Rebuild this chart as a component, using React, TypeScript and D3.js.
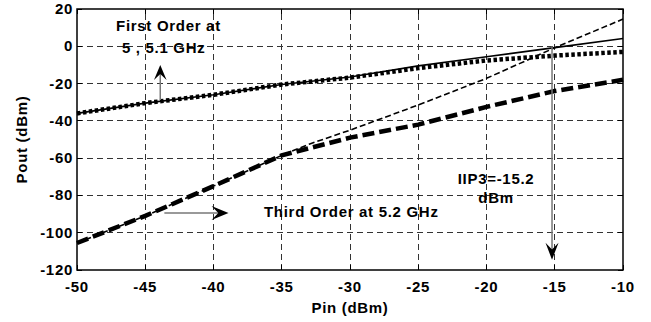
import React from 'react';
import * as d3 from 'd3';

// Pin sweep (dBm)
const pin = [-50, -45, -40, -35, -30, -25, -20, -15, -10];
// first order output, 5 GHz (solid) and 5.1 GHz (dotted)
const first5 = [-36, -30.5, -26, -20.5, -16.5, -10.5, -5.6, -0.7, 4.2];
const first51 = [-36, -30.5, -26, -20.5, -16.8, -11.7, -7.6, -5, -3];
// third order, 5.2 GHz (thick dashed)
const third = [-105.5, -91, -75, -58.5, -49, -42, -32.5, -24, -18];
// thin dashed extrapolated third order
const thirdExtPin = [-50, -45, -40, -35, -33, -30, -25, -20, -15, -10];
const thirdExt = [-105.5, -91, -75, -58.5, -52.5, -45, -31.5, -17.2, -0.8, 14.6];

const xTicks = [-50, -45, -40, -35, -30, -25, -20, -15, -10];
const yTicks = [20, 0, -20, -40, -60, -80, -100, -120];

const W = 651, H = 322;
const m = { left: 77, right: 28, top: 9, bottom: 52 };

const x = d3.scaleLinear().domain([-50, -10]).range([m.left, W - m.right]);
const y = d3.scaleLinear().domain([-120, 20]).range([H - m.bottom, m.top]);

const line = d3.line<[number, number]>().x(d => x(d[0])).y(d => y(d[1]));
const zip = (xs: number[], ys: number[]) => xs.map((v, i) => [v, ys[i]] as [number, number]);

const font = { fontFamily: 'Liberation Sans, Arial, sans-serif', fontWeight: 'bold' as const, fontSize: 15, letterSpacing: 0.7 };

// arrowhead with a notch, tip at (tx,ty), pointing direction angle (radians)
function head(tx: number, ty: number, ang: number, len = 16, half = 6.5) {
  const notch = len * 0.6;
  const c = Math.cos(ang), s = Math.sin(ang);
  const pt = (a: number, b: number) => `${tx - a * c - b * -s},${ty - a * s - b * c}`;
  return `M${tx},${ty} L${pt(len, half)} L${pt(notch, 0)} L${pt(len, -half)} Z`;
}

export default function App() {
  const [x0, x1] = x.range();
  const [y0, y1] = y.range();
  const arrowUp = { x: -43.9, from: -28.8, to: -10 };
  const arrowRight = { y: -89.4, from: -43.6, to: -38.9 };
  const iip3 = { x: -15.2, from: 0, to: -114.5 };
  return (
    <svg width={W} height={H} style={{ position: 'absolute', left: 0, top: 0, background: '#fff' }}>
      {/* grid */}
      <g stroke="#333" strokeWidth={1} strokeDasharray="6,4" shapeRendering="crispEdges">
        {xTicks.slice(1, -1).map(t => <line key={'gx' + t} x1={x(t)} x2={x(t)} y1={y0} y2={y1} />)}
        {yTicks.slice(1, -1).map(t => <line key={'gy' + t} x1={x0} x2={x1} y1={y(t)} y2={y(t)} />)}
      </g>
      {/* inner ticks */}
      <g stroke="#000" strokeWidth={1} shapeRendering="crispEdges">
        {xTicks.map(t => <g key={'tx' + t}>
          <line x1={x(t)} x2={x(t)} y1={y0} y2={y0 - 5} />
          <line x1={x(t)} x2={x(t)} y1={y1} y2={y1 + 5} />
        </g>)}
        {yTicks.map(t => <g key={'ty' + t}>
          <line x1={x0} x2={x0 + 5} y1={y(t)} y2={y(t)} />
          <line x1={x1} x2={x1 - 5} y1={y(t)} y2={y(t)} />
        </g>)}
      </g>
      {/* curves */}
      <path d={line(zip(thirdExtPin, thirdExt))!} fill="none" stroke="#000" strokeWidth={1.6} strokeDasharray="6,3" />
      <path d={line(zip(pin, third))!} fill="none" stroke="#000" strokeWidth={4.5} strokeDasharray="12,5" />
      <path d={line(zip(pin, first51))!} fill="none" stroke="#000" strokeWidth={4.5} strokeDasharray="3.5,2.5" />
      <path d={line(zip(pin, first5))!} fill="none" stroke="#000" strokeWidth={1.6} />
      {/* frame */}
      <rect x={x0} y={y1} width={x1 - x0} height={y0 - y1} fill="none" stroke="#000" strokeWidth={1.5} />
      {/* tick labels */}
      <g style={font} fill="#000">
        {xTicks.map(t => <text key={'lx' + t} x={x(t)} y={y0 + 22} textAnchor="middle">{t}</text>)}
        {yTicks.map(t => <text key={'ly' + t} x={x0 - 4} y={y(t) + 5} textAnchor="end">{t}</text>)}
        <text x={(x0 + x1) / 2} y={H - 9} textAnchor="middle">Pin (dBm)</text>
        <text transform={`translate(27,${(y0 + y1) / 2}) rotate(-90)`} textAnchor="middle">Pout (dBm)</text>
        <text x={x(-43.3)} y={y(8.2)} textAnchor="middle">First Order at</text>
        <text x={x(-43.65)} y={y(-3.4)} textAnchor="middle">5 , 5.1 GHz</text>
        <text x={x(-36.3)} y={y(-91.4)}>Third Order at 5.2 GHz</text>
        <text x={x(-19.3)} y={y(-74)} textAnchor="middle">IIP3=-15.2</text>
        <text x={x(-19.3)} y={y(-84.2)} textAnchor="middle">dBm</text>
      </g>
      {/* annotation arrows */}
      <g stroke="#777" strokeWidth={1.5}>
        <line x1={x(arrowUp.x)} x2={x(arrowUp.x)} y1={y(arrowUp.from)} y2={y(arrowUp.to) + 8} />
        <line x1={x(arrowRight.from)} x2={x(arrowRight.to) - 8} y1={y(arrowRight.y)} y2={y(arrowRight.y)} />
        <line x1={x(iip3.x)} x2={x(iip3.x)} y1={y(iip3.from)} y2={y(iip3.to) - 8} />
      </g>
      <g fill="#000">
        <path d={head(x(arrowUp.x), y(arrowUp.to), -Math.PI / 2, 15, 6.3)} />
        <path d={head(x(arrowRight.to), y(arrowRight.y), 0, 17, 7)} />
        <path d={head(x(iip3.x), y(iip3.to), Math.PI / 2, 17, 6.5)} />
      </g>
    </svg>
  );
}
